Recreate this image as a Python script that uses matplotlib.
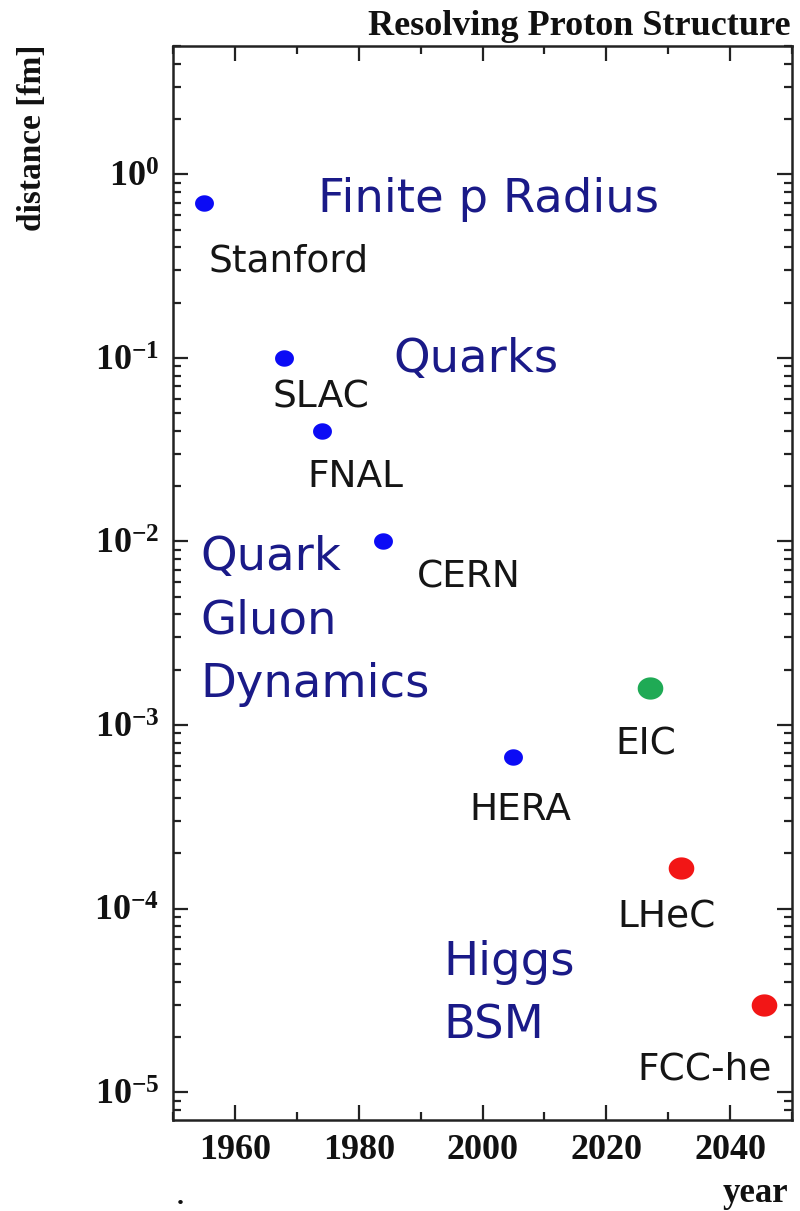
import numpy as np
import matplotlib
matplotlib.use("Agg")
import matplotlib.pyplot as plt
from matplotlib.path import Path
from matplotlib.ticker import LogLocator, NullFormatter, MultipleLocator

# ---------------- data ----------------
facilities = ["Stanford", "SLAC", "FNAL", "CERN", "HERA", "EIC", "LHeC", "FCC-he"]
years = [1955, 1968, 1974, 1984, 2005, 2027, 2032, 2045.5]
distance_fm = [0.7, 0.1, 0.04, 0.01, 6.7e-4, 1.6e-3, 1.66e-4, 3.0e-5]
status = ["past", "past", "past", "past", "past", "planned_eic", "planned", "planned"]

regimes = ["Finite p Radius", "Quarks", "Quark", "Gluon", "Dynamics", "Higgs", "BSM"]

x_ticks = [1960, 1980, 2000, 2020, 2040]
x_range = (1950, 2050)
y_range = (7.05e-6, 5.0)

# ---------------- style ----------------
status_color = {"past": "#0b0bf5", "planned_eic": "#1faa55", "planned": "#f21616"}
status_size = {"past": 185, "planned_eic": 340, "planned": 340}
# label offsets in pixels (dx to left edge, dy to baseline) from each marker
label_offsets = [(5, -69), (-12, -50), (-14, -56), (33, -46),
                 (-44, -63), (-34, -67), (-63, -59), (-127, -75)]
# regime text positions in axes fraction (left, baseline)
regime_pos = [(0.234, 0.8454), (0.3554, 0.6967), (0.0436, 0.5124),
              (0.0436, 0.4528), (0.0436, 0.3941), (0.4362, 0.1353),
              (0.4362, 0.0758)]

navy = "#1a1a88"
serif_bold = dict(family="Liberation Serif", weight="bold")

plt.rcParams["mathtext.fontset"] = "custom"
plt.rcParams["mathtext.rm"] = "Liberation Serif:bold"
plt.rcParams["mathtext.it"] = "Liberation Serif:bold"
plt.rcParams["mathtext.bf"] = "Liberation Serif:bold"

fig = plt.figure(figsize=(8, 12.11), dpi=100)
ax = fig.add_axes([0.21625, 0.07514, 0.77375, 0.88687])

# slightly wide elliptical marker (as in the reference)
t = np.linspace(0, 2 * np.pi, 73)
ellipse = Path(np.column_stack([1.15 * np.cos(t), np.sin(t)]))

for name, yr, d, st, (dx, dy) in zip(facilities, years, distance_fm, status, label_offsets):
    ax.scatter([yr], [d], s=status_size[st], c=status_color[st], marker=ellipse,
               linewidths=0, zorder=3)
    ax.annotate(name, (yr, d), xytext=(dx, dy), textcoords="offset pixels",
                ha="left", va="baseline", fontsize=27, color="#151515",
                family="DejaVu Sans")

for txt, (fx, fy) in zip(regimes, regime_pos):
    ax.text(fx, fy, txt, transform=ax.transAxes, ha="left", va="baseline",
            fontsize=33.5, color=navy, family="DejaVu Sans")

ax.set_yscale("log")
ax.set_xlim(*x_range)
ax.set_ylim(*y_range)

ax.set_xticks(x_ticks)
ax.xaxis.set_minor_locator(MultipleLocator(10))
ax.yaxis.set_major_locator(LogLocator(base=10, numticks=20))
ax.yaxis.set_minor_locator(LogLocator(base=10, subs=np.arange(2, 10), numticks=100))
ax.yaxis.set_minor_formatter(NullFormatter())

ax.tick_params(which="both", direction="in", top=True, right=True,
               width=1.6, color="#222222")
ax.tick_params(which="major", length=11, pad=10, labelsize=26, labelcolor="#111111")
ax.tick_params(which="minor", length=6)
for lab in ax.get_xticklabels() + ax.get_yticklabels():
    lab.set_fontfamily("Liberation Serif")
    lab.set_fontweight("bold")
for sp in ax.spines.values():
    sp.set_linewidth(1.8)
    sp.set_color("#222222")

fig.text(790 / 800, 1 - 35 / 1211, "Resolving Proton Structure", ha="right",
         va="baseline", fontsize=26, color="#111111", **serif_bold)
fig.text(33 / 800, 1 - 138 / 1211, "distance [fm]", rotation=90, ha="center",
         va="center", fontsize=24, color="#111111", **serif_bold)
fig.text(788 / 800, 1 - 1202 / 1211, "year", ha="right", va="baseline",
         fontsize=25, color="#111111", **serif_bold)
fig.text(180 / 800, 1 - 1210 / 1211, ".", ha="center", va="bottom",
         fontsize=20, color="#111111", **serif_bold)

fig.savefig("out.png", dpi=100)
